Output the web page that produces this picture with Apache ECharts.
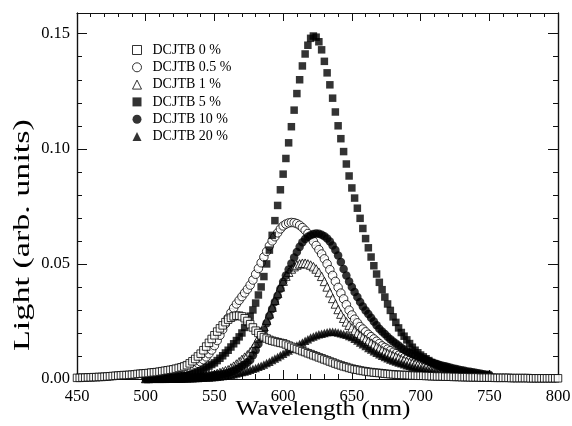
<!DOCTYPE html>
<html>
<head>
<meta charset="utf-8">
<script src="https://cdn.jsdelivr.net/npm/echarts@6/dist/echarts.min.js"></script>
<style>
  html, body { margin: 0; padding: 0; background: #fff; }
  #chart { width: 572px; height: 426px; }
</style>
</head>
<body>
<div id="chart"></div>
<script>
// Electroluminescence spectra for different DCJTB doping levels.
// Wavelengths in nm, sampled every 2 nm.
const wavelengthStep = 2;
const undopedStart = 450;   // first wavelength of the 0 % spectrum
const dopedStart = 500;     // first wavelength of the doped spectra

const seriesNames = ['DCJTB 0 %', 'DCJTB 0.5 %', 'DCJTB 1 %', 'DCJTB 5 %', 'DCJTB 10 %', 'DCJTB 20 %'];

const xTicks = { min: 450, max: 800, step: 50 };
const yTicks = { min: 0, max: 0.159, step: 0.05, minorStep: 0.01 };

// 0 %  (450 - 800 nm)
const dcjtb0 = [
  0.0005,0.0005,0.0006,0.0006,0.0007,0.0007,0.0008,0.0008,0.0009,0.0009,
  0.0010,0.0011,0.0012,0.0013,0.0014,0.0015,0.0016,0.0017,0.0017,0.0018,
  0.0019,0.0020,0.0022,0.0023,0.0024,0.0025,0.0026,0.0028,0.0029,0.0030,
  0.0032,0.0034,0.0036,0.0038,0.0040,0.0042,0.0045,0.0048,0.0051,0.0055,
  0.0060,0.0068,0.0077,0.0087,0.0098,0.0110,0.0125,0.0141,0.0157,0.0174,
  0.0190,0.0206,0.0220,0.0233,0.0247,0.0258,0.0266,0.0272,0.0275,0.0275,
  0.0272,0.0264,0.0252,0.0238,0.0224,0.0210,0.0200,0.0190,0.0182,0.0176,
  0.0170,0.0166,0.0163,0.0160,0.0157,0.0155,0.0150,0.0145,0.0140,0.0135,
  0.0130,0.0126,0.0121,0.0117,0.0112,0.0108,0.0103,0.0099,0.0094,0.0090,
  0.0085,0.0081,0.0076,0.0072,0.0067,0.0063,0.0059,0.0055,0.0052,0.0048,
  0.0045,0.0042,0.0040,0.0037,0.0035,0.0033,0.0031,0.0030,0.0028,0.0027,
  0.0026,0.0025,0.0023,0.0022,0.0021,0.0020,0.0019,0.0018,0.0018,0.0017,
  0.0017,0.0016,0.0015,0.0015,0.0014,0.0014,0.0014,0.0013,0.0013,0.0012,
  0.0012,0.0011,0.0011,0.0011,0.0010,0.0010,0.0010,0.0009,0.0009,0.0009,
  0.0008,0.0008,0.0008,0.0007,0.0007,0.0007,0.0007,0.0006,0.0006,0.0006,
  0.0006,0.0006,0.0005,0.0005,0.0005,0.0005,0.0005,0.0005,0.0004,0.0004,
  0.0004,0.0004,0.0004,0.0004,0.0004,0.0003,0.0003,0.0003,0.0003,0.0003,
  0.0003,0.0003,0.0003,0.0003,0.0003,0.0003
];

// 0.5 %  (500 - 750 nm)
const dcjtb05 = [
  0.0008,0.0009,0.0010,0.0011,0.0012,0.0013,0.0015,0.0017,0.0020,0.0022,
  0.0025,0.0028,0.0032,0.0036,0.0040,0.0045,0.0050,0.0056,0.0062,0.0068,
  0.0074,0.0084,0.0096,0.0110,0.0126,0.0145,0.0167,0.0190,0.0215,0.0240,
  0.0265,0.0288,0.0308,0.0326,0.0342,0.0358,0.0374,0.0390,0.0408,0.0430,
  0.0455,0.0480,0.0505,0.0530,0.0554,0.0578,0.0600,0.0618,0.0635,0.0652,
  0.0665,0.0673,0.0678,0.0680,0.0679,0.0675,0.0668,0.0658,0.0646,0.0632,
  0.0616,0.0598,0.0580,0.0562,0.0543,0.0522,0.0500,0.0475,0.0450,0.0424,
  0.0398,0.0373,0.0348,0.0323,0.0299,0.0278,0.0260,0.0244,0.0228,0.0217,
  0.0205,0.0194,0.0184,0.0174,0.0164,0.0154,0.0144,0.0137,0.0130,0.0123,
  0.0116,0.0110,0.0103,0.0097,0.0092,0.0087,0.0082,0.0077,0.0072,0.0068,
  0.0064,0.0060,0.0056,0.0053,0.0049,0.0046,0.0043,0.0040,0.0037,0.0034,
  0.0032,0.0030,0.0028,0.0026,0.0024,0.0022,0.0021,0.0019,0.0018,0.0016,
  0.0015,0.0014,0.0013,0.0012,0.0011,0.0010
];

// 1 %  (500 - 750 nm)
const dcjtb1 = [
  0.0002,0.0002,0.0003,0.0003,0.0003,0.0003,0.0003,0.0003,0.0004,0.0004,
  0.0004,0.0004,0.0005,0.0005,0.0006,0.0006,0.0007,0.0008,0.0008,0.0009,
  0.0010,0.0012,0.0014,0.0016,0.0018,0.0020,0.0024,0.0028,0.0032,0.0036,
  0.0040,0.0048,0.0056,0.0065,0.0075,0.0085,0.0095,0.0105,0.0118,0.0134,
  0.0155,0.0178,0.0202,0.0228,0.0255,0.0283,0.0312,0.0342,0.0372,0.0400,
  0.0425,0.0447,0.0464,0.0478,0.0488,0.0495,0.0500,0.0503,0.0503,0.0500,
  0.0495,0.0488,0.0478,0.0464,0.0446,0.0424,0.0400,0.0375,0.0350,0.0326,
  0.0302,0.0282,0.0264,0.0248,0.0234,0.0222,0.0210,0.0198,0.0189,0.0180,
  0.0172,0.0164,0.0156,0.0148,0.0140,0.0132,0.0124,0.0117,0.0111,0.0106,
  0.0101,0.0096,0.0090,0.0084,0.0080,0.0076,0.0072,0.0068,0.0064,0.0061,
  0.0057,0.0053,0.0050,0.0046,0.0043,0.0039,0.0037,0.0035,0.0032,0.0030,
  0.0028,0.0026,0.0025,0.0023,0.0022,0.0020,0.0019,0.0017,0.0016,0.0014,
  0.0013,0.0012,0.0011,0.0010,0.0009,0.0008
];

// 5 %  (500 - 750 nm)
const dcjtb5 = [
  0.0005,0.0005,0.0005,0.0006,0.0006,0.0007,0.0007,0.0008,0.0008,0.0009,
  0.0010,0.0011,0.0012,0.0013,0.0014,0.0015,0.0018,0.0022,0.0026,0.0030,
  0.0035,0.0042,0.0049,0.0056,0.0063,0.0070,0.0080,0.0090,0.0101,0.0113,
  0.0125,0.0139,0.0153,0.0167,0.0183,0.0200,0.0224,0.0248,0.0273,0.0300,
  0.0330,0.0365,0.0400,0.0445,0.0500,0.0560,0.0624,0.0688,0.0754,0.0822,
  0.0890,0.0958,0.1026,0.1096,0.1168,0.1240,0.1300,0.1360,0.1412,0.1450,
  0.1480,0.1490,0.1485,0.1465,0.1430,0.1380,0.1330,0.1278,0.1220,0.1160,
  0.1100,0.1044,0.0988,0.0934,0.0882,0.0830,0.0786,0.0742,0.0698,0.0654,
  0.0610,0.0570,0.0530,0.0492,0.0456,0.0420,0.0388,0.0356,0.0326,0.0298,
  0.0270,0.0246,0.0222,0.0202,0.0186,0.0170,0.0154,0.0138,0.0125,0.0114,
  0.0104,0.0096,0.0088,0.0080,0.0072,0.0065,0.0060,0.0055,0.0051,0.0047,
  0.0043,0.0040,0.0037,0.0034,0.0031,0.0028,0.0026,0.0024,0.0022,0.0020,
  0.0018,0.0017,0.0015,0.0014,0.0012,0.0011
];

// 10 %  (500 - 750 nm)
const dcjtb10 = [
  0.0002,0.0002,0.0002,0.0002,0.0002,0.0002,0.0002,0.0003,0.0003,0.0003,
  0.0003,0.0003,0.0003,0.0004,0.0004,0.0004,0.0005,0.0005,0.0006,0.0007,
  0.0008,0.0009,0.0010,0.0012,0.0014,0.0016,0.0018,0.0020,0.0022,0.0024,
  0.0027,0.0031,0.0036,0.0042,0.0049,0.0056,0.0063,0.0072,0.0083,0.0103,
  0.0125,0.0152,0.0180,0.0212,0.0242,0.0274,0.0304,0.0334,0.0362,0.0392,
  0.0422,0.0450,0.0476,0.0502,0.0528,0.0552,0.0574,0.0594,0.0608,0.0618,
  0.0625,0.0630,0.0632,0.0631,0.0627,0.0620,0.0610,0.0597,0.0580,0.0560,
  0.0536,0.0508,0.0478,0.0450,0.0424,0.0400,0.0378,0.0356,0.0334,0.0315,
  0.0298,0.0282,0.0266,0.0250,0.0234,0.0218,0.0206,0.0195,0.0184,0.0173,
  0.0163,0.0154,0.0145,0.0136,0.0128,0.0120,0.0114,0.0108,0.0102,0.0097,
  0.0092,0.0087,0.0082,0.0077,0.0072,0.0068,0.0065,0.0061,0.0058,0.0055,
  0.0052,0.0049,0.0046,0.0043,0.0040,0.0038,0.0036,0.0033,0.0031,0.0029,
  0.0027,0.0025,0.0023,0.0021,0.0019,0.0018
];

// 20 %  (500 - 750 nm)
const dcjtb20 = [
  0.0001,0.0001,0.0001,0.0001,0.0001,0.0002,0.0002,0.0002,0.0002,0.0002,
  0.0002,0.0002,0.0002,0.0002,0.0003,0.0003,0.0003,0.0003,0.0004,0.0004,
  0.0005,0.0005,0.0006,0.0007,0.0008,0.0009,0.0010,0.0011,0.0013,0.0014,
  0.0016,0.0018,0.0021,0.0024,0.0027,0.0030,0.0033,0.0036,0.0040,0.0044,
  0.0048,0.0053,0.0058,0.0063,0.0069,0.0075,0.0082,0.0089,0.0096,0.0103,
  0.0110,0.0117,0.0124,0.0131,0.0138,0.0145,0.0152,0.0159,0.0166,0.0173,
  0.0180,0.0185,0.0190,0.0194,0.0197,0.0200,0.0203,0.0205,0.0205,0.0204,
  0.0202,0.0199,0.0196,0.0192,0.0187,0.0182,0.0175,0.0167,0.0159,0.0151,
  0.0143,0.0135,0.0128,0.0121,0.0114,0.0107,0.0101,0.0096,0.0090,0.0085,
  0.0080,0.0076,0.0072,0.0068,0.0064,0.0060,0.0057,0.0053,0.0050,0.0047,
  0.0044,0.0042,0.0039,0.0037,0.0034,0.0032,0.0030,0.0029,0.0027,0.0026,
  0.0024,0.0023,0.0021,0.0020,0.0018,0.0017,0.0016,0.0014,0.0013,0.0012,
  0.0011,0.0010,0.0010,0.0009,0.0008,0.0007
];

const spectra = [
  { name: seriesNames[0], start: undopedStart, values: dcjtb0 },
  { name: seriesNames[1], start: dopedStart, values: dcjtb05 },
  { name: seriesNames[2], start: dopedStart, values: dcjtb1 },
  { name: seriesNames[3], start: dopedStart, values: dcjtb5 },
  { name: seriesNames[4], start: dopedStart, values: dcjtb10 },
  { name: seriesNames[5], start: dopedStart, values: dcjtb20 }
];

// Marker look for each doping level: open symbols for the low levels, filled for the high ones.
// Drawing order follows the legend; the undoped spectrum stays on top along the baseline.
const OPEN = { color: '#fff', borderColor: '#000', borderWidth: 1 };
const FILLED = { color: '#000', borderColor: '#000', borderWidth: 0 };
const markerStyles = [
  { symbol: 'rect',     size: 7.5, item: OPEN,   z: 9 },
  { symbol: 'circle',   size: 8.5, item: OPEN,   z: 3 },
  { symbol: 'triangle', size: 8.5, item: OPEN,   z: 4 },
  { symbol: 'rect',     size: 7.5, item: FILLED, z: 5 },
  { symbol: 'circle',   size: 8.5, item: FILLED, z: 6 },
  { symbol: 'triangle', size: 8.5, item: FILLED, z: 7 }
];

const FONT = '"Liberation Serif", "Times New Roman", Times, serif';
const INK = '#111';

const toPairs = (s) => s.values.map((v, i) => [s.start + i * wavelengthStep, v]);

const series = spectra.map((s, k) => ({
  name: s.name,
  type: 'scatter',
  xAxisIndex: 0,
  yAxisIndex: 0,
  z: markerStyles[k].z,
  symbol: markerStyles[k].symbol,
  symbolSize: markerStyles[k].size,
  itemStyle: markerStyles[k].item,
  data: toPairs(s),
  silent: true,
  large: false,
  animation: false
}));

function xAxisDef(position, showLabels, major, minor) {
  return {
    type: 'value',
    position: position,
    min: xTicks.min,
    max: xTicks.max,
    interval: xTicks.step,
    axisLine: { show: true, onZero: false, lineStyle: { color: INK, width: 1.2 } },
    axisTick: { show: true, inside: true, length: major, lineStyle: { color: INK, width: 1 } },
    minorTick: { show: true, splitNumber: 5, length: minor, lineStyle: { color: INK, width: 1 } },
    axisLabel: { show: showLabels, fontFamily: FONT, fontSize: 16.5, color: '#000', margin: 9 },
    splitLine: { show: false },
    minorSplitLine: { show: false }
  };
}

function yAxisDef(position, step, tickLen, showLabels) {
  return {
    type: 'value',
    position: position,
    min: yTicks.min,
    max: yTicks.max,
    interval: step,
    axisLine: { show: true, onZero: false, lineStyle: { color: INK, width: 1.2 } },
    axisTick: { show: true, inside: true, length: tickLen, lineStyle: { color: INK, width: 1 } },
    axisLabel: {
      show: showLabels,
      showMaxLabel: false,
      fontFamily: FONT, fontSize: 16.5, color: '#000', margin: 7,
      formatter: (v) => v.toFixed(2)
    },
    splitLine: { show: false }
  };
}

const legendIcons = [
  { icon: 'rect', style: OPEN },
  { icon: 'circle', style: OPEN },
  { icon: 'triangle', style: OPEN },
  { icon: 'rect', style: FILLED },
  { icon: 'circle', style: FILLED },
  { icon: 'triangle', style: FILLED }
];

const chart = echarts.init(document.getElementById('chart'), null, { renderer: 'canvas' });
chart.setOption({
  animation: false,
  backgroundColor: '#fff',
  grid: { left: 77, right: 14, top: 13, bottom: 47, containLabel: false, outerBoundsMode: 'none' },
  xAxis: [
    xAxisDef('bottom', true, 9, 5),
    xAxisDef('top', false, 8, 4)
  ],
  yAxis: [
    yAxisDef('left', yTicks.step, 10, true),
    yAxisDef('left', yTicks.minorStep, 5, false),
    yAxisDef('right', yTicks.step, 10, false),
    yAxisDef('right', yTicks.minorStep, 5, false)
  ],
  legend: {
    orient: 'vertical',
    left: 127,
    top: 38,
    itemWidth: 9,
    itemHeight: 9,
    itemGap: 3.3,
    selectedMode: false,
    textStyle: { fontFamily: FONT, fontSize: 14, color: '#000', lineHeight: 14, padding: [0, 0, 0, 6] },
    data: seriesNames.map((n, k) => ({ name: n, icon: legendIcons[k].icon, itemStyle: legendIcons[k].style }))
  },
  graphic: [
    {
      type: 'text', x: 323, y: 410, scaleX: 1.26, silent: true,
      style: { text: 'Wavelength (nm)', font: '20px ' + FONT, fill: '#000', align: 'center', verticalAlign: 'middle' }
    },
    {
      type: 'text', x: 22.5, y: 235, rotation: Math.PI / 2, scaleX: 1.42, silent: true,
      style: { text: 'Light (arb. units)', font: '24px ' + FONT, fill: '#000', align: 'center', verticalAlign: 'middle' }
    }
  ],
  series: series
});
</script>
</body>
</html>
